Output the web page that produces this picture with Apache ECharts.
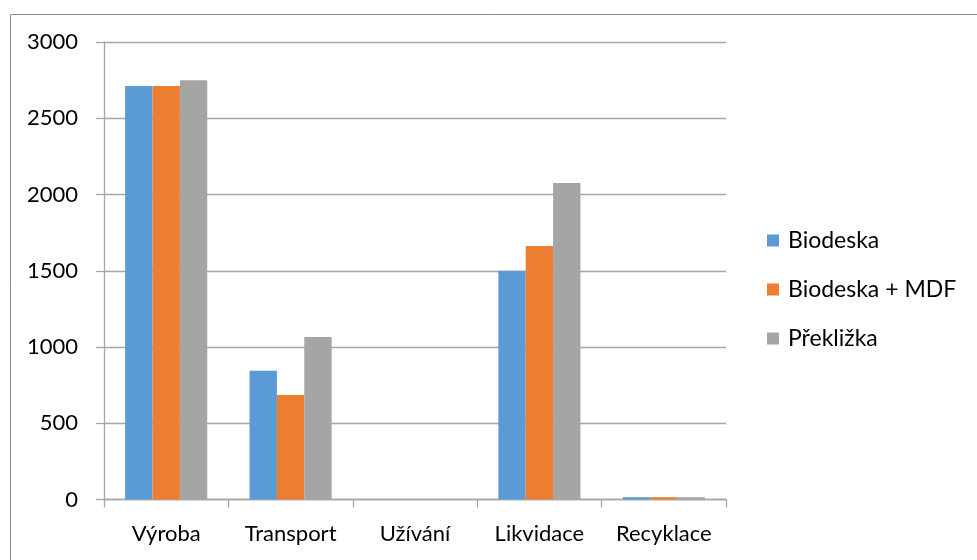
<!DOCTYPE html>
<html>
<head>
<meta charset="utf-8">
<script src="https://cdn.jsdelivr.net/npm/echarts@6/dist/echarts.min.js"></script>
<style>
  html, body { margin: 0; padding: 0; background: #ffffff; }
  #chart { width: 977px; height: 560px; }
</style>
</head>
<body>
<div id="chart"></div>
<script>
// Life-cycle phases and values per board type
const phases = ['Výroba', 'Transport', 'Užívání', 'Likvidace', 'Recyklace'];
const seriesNames = ['Biodeska', 'Biodeska + MDF', 'Překližka'];
const biodeska = [2712, 844, 0, 1500, 15];
const biodeskaMdf = [2712, 685, 0, 1663, 15];
const preklizka = [2749, 1065, 0, 2076, 15];
const colors = ['#5B9BD5', '#ED7D31', '#A5A5A5'];

const FONT = 'Lato';
const FS = 22;
const chart = echarts.init(document.getElementById('chart'), null, { renderer: 'canvas' });

const values = [biodeska, biodeskaMdf, preklizka];

chart.setOption({
  animation: false,
  backgroundColor: '#ffffff',
  textStyle: { fontFamily: FONT, color: '#000000' },
  graphic: [{
    type: 'rect',
    left: 8, top: 12,
    shape: { x: 0, y: 0, width: 990, height: 570 },
    style: { fill: 'none', stroke: '#8c8c8c', lineWidth: 1 },
    silent: true
  }],
  grid: { left: 104, right: 251, top: 42, bottom: 60.5, containLabel: false },
  legend: {
    orient: 'vertical',
    left: 762, top: 224,
    padding: 5,
    itemWidth: 12, itemHeight: 12,
    itemGap: 26,
    icon: 'rect',
    textStyle: { fontFamily: FONT, fontSize: 23, lineHeight: 23, color: '#000000', padding: [0, 0, 0, 4] },
    data: seriesNames
  },
  xAxis: {
    type: 'category',
    data: phases,
    axisLine: { lineStyle: { color: '#a6a6a6', width: 1.3 } },
    axisTick: { show: true, length: 8, alignWithLabel: false, lineStyle: { color: '#a6a6a6', width: 1.3 } },
    axisLabel: { fontFamily: FONT, fontSize: FS, color: '#000000', margin: 23, interval: 0, hideOverlap: false }
  },
  yAxis: {
    type: 'value',
    min: 0, max: 3000, interval: 500,
    axisLine: { show: true, lineStyle: { color: '#a6a6a6', width: 1.3 } },
    axisTick: { show: true, length: 8, lineStyle: { color: '#a6a6a6', width: 1.3 } },
    splitLine: { lineStyle: { color: '#a6a6a6', width: 1.3 } },
    axisLabel: { fontFamily: FONT, fontSize: FS, color: '#000000', margin: 26, formatter: (v) => String(v) }
  },
  series: seriesNames.map((name, i) => ({
    name: name,
    type: 'bar',
    data: values[i],
    barGap: '0%',
    barCategoryGap: '34%',
    itemStyle: { color: colors[i] },
    emphasis: { disabled: true }
  }))
});
</script>
</body>
</html>
